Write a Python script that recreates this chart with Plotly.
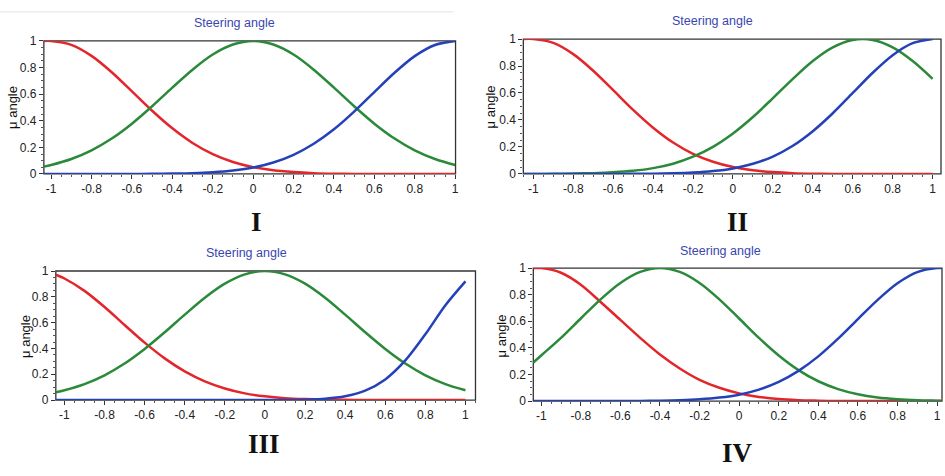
import plotly.graph_objects as go

W, H = 945, 476

# ---------------- data ----------------
tick_vals_x = [-1, -0.8, -0.6, -0.4, -0.2, 0, 0.2, 0.4, 0.6, 0.8, 1]
tick_text_x = ["-1", "-0.8", "-0.6", "-0.4", "-0.2", "0", "0.2", "0.4", "0.6", "0.8", "1"]
tick_vals_y = [0, 0.2, 0.4, 0.6, 0.8, 1]
tick_text_y = ["0", "0.2", "0.4", "0.6", "0.8", "1"]

x_I = [-1.036, -1.0, -0.9, -0.8, -0.7, -0.6, -0.5, -0.4, -0.3, -0.2, -0.1, 0.0,
       0.1, 0.2, 0.3, 0.4, 0.5, 0.6, 0.7, 0.8, 0.9, 1.0]
red_I = [1.0, 1.0, 0.971, 0.888, 0.765, 0.621, 0.475, 0.343, 0.233, 0.149, 0.090, 0.051,
         0.027, 0.014, 0.006, 0.002, 0, 0, 0, 0, 0, 0]
green_I = [0.055, 0.067, 0.112, 0.177, 0.266, 0.378, 0.509, 0.649, 0.784, 0.898, 0.973, 1.0,
           0.973, 0.898, 0.784, 0.649, 0.509, 0.378, 0.266, 0.177, 0.112, 0.067]
blue_I = [0, 0, 0, 0, 0, 0, 0.001, 0.003, 0.006, 0.013, 0.026, 0.048,
          0.086, 0.144, 0.227, 0.336, 0.469, 0.616, 0.761, 0.886, 0.970, 1.0]

x_II = [-1.05, -1.0, -0.9, -0.8, -0.7, -0.6, -0.5, -0.4, -0.3, -0.2, -0.1, 0.0,
        0.1, 0.2, 0.3, 0.4, 0.5, 0.6, 0.7, 0.8, 0.9, 1.0]
red_II = [1.0, 1.0, 0.971, 0.888, 0.765, 0.621, 0.475, 0.343, 0.233, 0.149, 0.090, 0.051,
          0.027, 0.014, 0.006, 0.002, 0, 0, 0, 0, 0, 0]
green_II = [0, 0, 0.001, 0.003, 0.006, 0.012, 0.023, 0.043, 0.076, 0.128, 0.201, 0.300,
            0.422, 0.562, 0.705, 0.837, 0.938, 0.993, 0.993, 0.938, 0.837, 0.705]
blue_II = [0, 0, 0, 0, 0, 0, 0.001, 0.002, 0.0045, 0.010, 0.021, 0.041,
           0.075, 0.129, 0.209, 0.317, 0.450, 0.600, 0.750, 0.880, 0.969, 1.0]

x_III = [-1.043, -1.0, -0.9, -0.8, -0.7, -0.6, -0.5, -0.4, -0.3, -0.2, -0.1, 0.0,
         0.1, 0.2, 0.3, 0.4, 0.5, 0.6, 0.7, 0.8, 0.9, 1.0]
red_III = [0.971, 0.942, 0.846, 0.721, 0.582, 0.445, 0.323, 0.222, 0.145, 0.090, 0.052, 0.029,
           0.015, 0.008, 0.004, 0.002, 0, 0, 0, 0, 0, 0]
green_III = [0.060, 0.076, 0.124, 0.192, 0.283, 0.396, 0.525, 0.662, 0.793, 0.902, 0.974, 1.0,
             0.974, 0.902, 0.793, 0.662, 0.525, 0.396, 0.283, 0.192, 0.124, 0.076]
blue_III = [0, 0, 0, 0, 0, 0, 0, 0, 0, 0, 0, 0,
            0, 0.003, 0.010, 0.029, 0.073, 0.160, 0.307, 0.510, 0.735, 0.920]

x_IV = [-1.04, -1.0, -0.9, -0.8, -0.7, -0.6, -0.5, -0.4, -0.3, -0.2, -0.1, 0.0,
        0.1, 0.2, 0.3, 0.4, 0.5, 0.6, 0.7, 0.8, 0.9, 1.0, 1.02]
red_IV = [1.0, 1.0, 0.965, 0.875, 0.745, 0.61, 0.475, 0.35, 0.245, 0.16, 0.10, 0.058,
          0.031, 0.015, 0.007, 0.003, 0, 0, 0, 0, 0, 0, 0]
green_IV = [0.29, 0.343, 0.475, 0.621, 0.765, 0.888, 0.971, 1.0, 0.971, 0.888, 0.765, 0.621,
            0.475, 0.343, 0.233, 0.149, 0.090, 0.051, 0.027, 0.014, 0.0065, 0.003, 0.002]
blue_IV = [0, 0, 0, 0, 0, 0, 0.001, 0.0026, 0.006, 0.013, 0.026, 0.048,
           0.086, 0.144, 0.227, 0.336, 0.469, 0.616, 0.761, 0.886, 0.970, 1.0, 1.0]

panel_labels = ["I", "II", "III", "IV"]
title_text = "Steering angle"
ylabel_text = "μ angle"

# ---------------- layout geometry (pixels) ----------------
panels = [
    dict(px=(44, 457), py=(35, 172), xr=(-1.036, 1.002), x=x_I, r=red_I, g=green_I, b=blue_I,
         title=(235, 17), ylab=(13, 103), num=(257, 221)),
    dict(px=(525, 944), py=(33, 172), xr=(-1.05, 1.042), x=x_II, r=red_II, g=green_II, b=blue_II,
         title=(715, 14), ylab=(493, 103), num=(740, 221)),
    dict(px=(56, 477), py=(272, 405), xr=(-1.043, 1.05), x=x_III, r=red_III, g=green_III, b=blue_III,
         title=(247, 253), ylab=(25, 339), num=(265, 450)),
    dict(px=(535, 945), py=(269, 406), xr=(-1.04, 1.025), x=x_IV, r=red_IV, g=green_IV, b=blue_IV,
         title=(723, 251), ylab=(503, 339), num=(740, 460)),
]

RED, GREEN, BLUE = "#e3262b", "#2a8a3a", "#2441b8"
FONT = "Liberation Sans, Arial, sans-serif"

fig = go.Figure()
shapes = []
annotations = []
layout = {}

for i, p in enumerate(panels):
    n = "" if i == 0 else str(i + 1)
    xa, ya = "x" + n, "y" + n
    for ys, col in ((p["r"], RED), (p["g"], GREEN), (p["b"], BLUE)):
        fig.add_trace(go.Scatter(
            x=p["x"], y=ys, mode="lines", xaxis=xa, yaxis=ya,
            line=dict(color=col, width=2.5, shape="spline", smoothing=0.9),
            cliponaxis=False, showlegend=False, hoverinfo="skip"))
    x0, x1 = p["px"][0] / W, p["px"][1] / W
    y0, y1 = 1 - p["py"][1] / H, 1 - p["py"][0] / H
    layout["xaxis" + n] = dict(
        domain=[x0, min(x1, 1.0)], range=list(p["xr"]), anchor=ya,
        tickvals=tick_vals_x, ticktext=tick_text_x, ticks="outside", ticklen=4,
        tickcolor="#333", tickwidth=1,
        minor=dict(tick0=0, dtick=0.05, ticks="outside", ticklen=2, tickcolor="#555"),
        showgrid=False, zeroline=False, showline=False,
        tickfont=dict(family=FONT, size=12, color="#222"), fixedrange=True)
    layout["yaxis" + n] = dict(
        domain=[y0, y1], range=[0, 1], anchor=xa,
        tickvals=tick_vals_y, ticktext=tick_text_y, ticks="outside", ticklen=4,
        tickcolor="#333", tickwidth=1,
        minor=dict(tick0=0, dtick=0.05, ticks="outside", ticklen=2, tickcolor="#555"),
        showgrid=False, zeroline=False, showline=False,
        tickfont=dict(family=FONT, size=12, color="#222"), fixedrange=True)
    shapes.append(dict(type="rect", xref=xa + " domain", yref=ya + " domain",
                       x0=0, x1=1, y0=0, y1=1, line=dict(color="#333", width=1.3),
                       layer="below"))
    annotations.append(dict(text=title_text, x=p["title"][0] / W, y=1 - p["title"][1] / H,
                            xref="paper", yref="paper", showarrow=False,
                            xanchor="center", yanchor="middle",
                            font=dict(family=FONT, size=12.5, color="#3a46b0")))
    annotations.append(dict(text=ylabel_text, x=p["ylab"][0] / W, y=1 - p["ylab"][1] / H,
                            xref="paper", yref="paper", showarrow=False, textangle=-90,
                            xanchor="center", yanchor="middle",
                            font=dict(family=FONT, size=13, color="#111")))
    annotations.append(dict(text="<b>" + panel_labels[i] + "</b>",
                            x=p["num"][0] / W, y=1 - p["num"][1] / H,
                            xref="paper", yref="paper", showarrow=False,
                            xanchor="center", yanchor="middle",
                            font=dict(family="Liberation Serif, Times New Roman, serif",
                                      size=27, color="#111")))

# faint separator line at top-left like the reference
shapes.append(dict(type="line", xref="paper", yref="paper", x0=0, x1=455 / W,
                   y0=1 - 5 / H, y1=1 - 5 / H, line=dict(color="#e2e2e2", width=1)))

fig.update_layout(width=W, height=H, margin=dict(l=0, r=0, t=0, b=0),
                  paper_bgcolor="white", plot_bgcolor="white",
                  shapes=shapes, annotations=annotations, **layout)

fig.write_html("out.html", config={"displayModeBar": False},
               post_script="document.body.style.margin='0';document.body.style.overflow='hidden';")
